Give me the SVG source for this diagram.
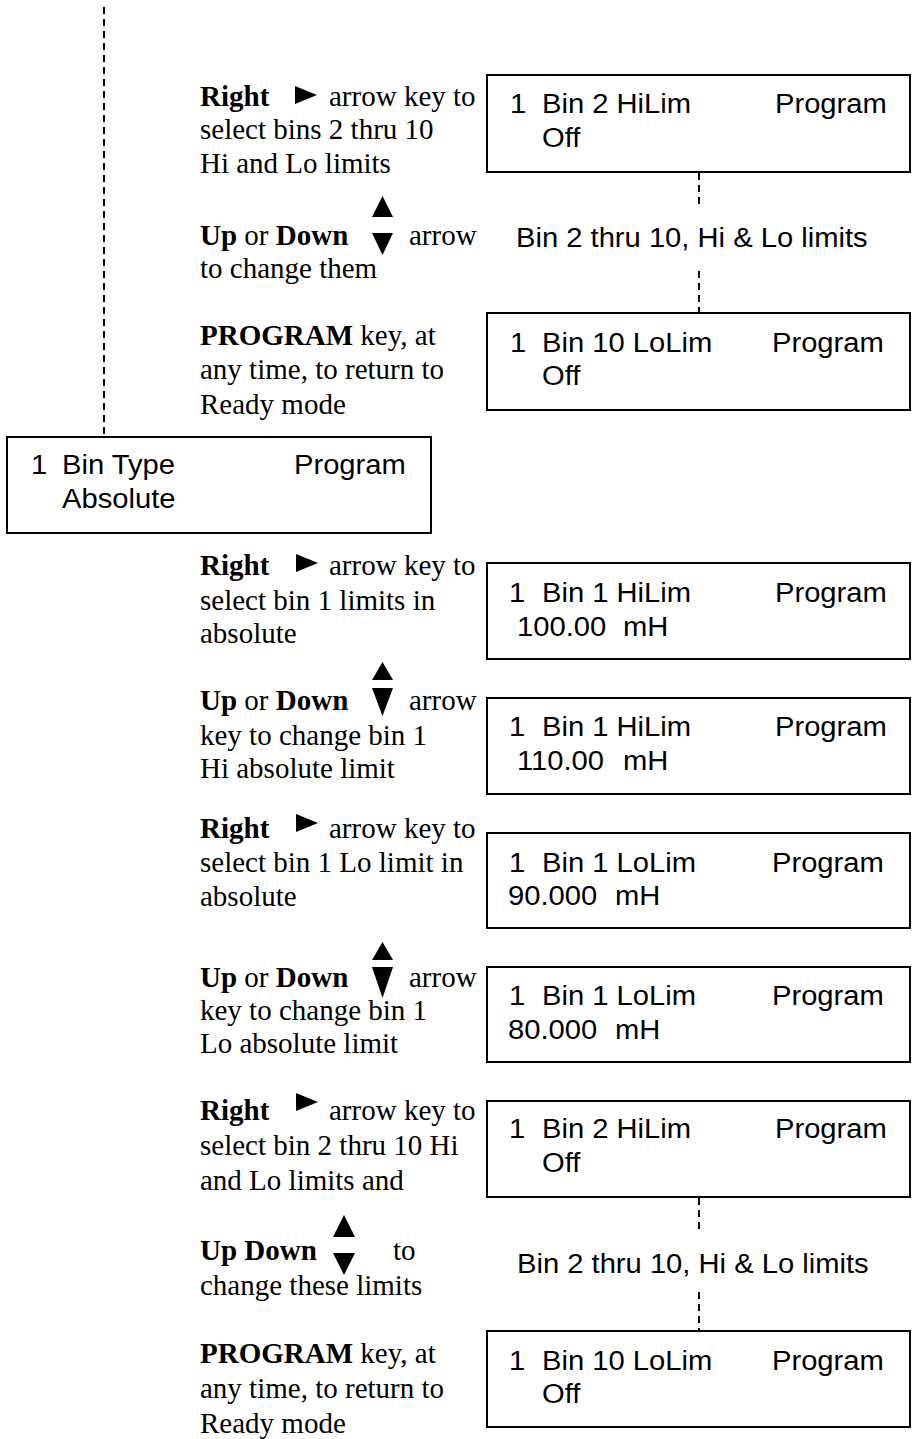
<svg xmlns="http://www.w3.org/2000/svg" width="913" height="1439" viewBox="0 0 913 1439">
<style>
.box{fill:#fff;stroke:#000;stroke-width:2}
.dash{fill:none;stroke:#000;stroke-width:2;stroke-dasharray:7 5}
.lcd{font-family:"Liberation Sans",Arial,sans-serif;font-size:27px;fill:#000}
.ins{font-family:"Liberation Serif","Times New Roman",serif;font-size:29px;fill:#000}
.b{font-weight:bold}
.tri{fill:#000}
</style>
<rect width="913" height="1439" fill="#fff"/>
<g id="connectors">
<line class="dash" x1="104" y1="7" x2="104" y2="437"/>
<line class="dash" x1="699" y1="173" x2="699" y2="208"/>
<line class="dash" x1="699" y1="271" x2="699" y2="312"/>
<line class="dash" x1="699" y1="1198" x2="699" y2="1233"/>
<line class="dash" x1="699" y1="1292" x2="699" y2="1330"/>
</g>
<g id="node-bin2-hilim-top">
<rect class="box" x="487" y="75" width="423" height="97"/>
<text class="lcd" transform="translate(510 113) scale(1.08 1)">1</text>
<text class="lcd" transform="translate(542 113) scale(1.08 1)">Bin 2 HiLim</text>
<text class="lcd" transform="translate(775 113) scale(1.08 1)">Program</text>
<text class="lcd" transform="translate(542 147) scale(1.08 1)">Off</text>
</g>
<g id="label-range-top">
<text class="lcd" transform="translate(516 247) scale(1.08 1)">Bin 2 thru 10, Hi &amp; Lo limits</text>
</g>
<g id="node-bin10-lolim-top">
<rect class="box" x="487" y="313" width="423" height="97"/>
<text class="lcd" transform="translate(510 352) scale(1.08 1)">1</text>
<text class="lcd" transform="translate(542 352) scale(1.08 1)">Bin 10 LoLim</text>
<text class="lcd" transform="translate(772 352) scale(1.08 1)">Program</text>
<text class="lcd" transform="translate(542 385) scale(1.08 1)">Off</text>
</g>
<g id="node-bin-type">
<rect class="box" x="7" y="437" width="424" height="96"/>
<text class="lcd" transform="translate(31 474) scale(1.08 1)">1</text>
<text class="lcd" transform="translate(62 474) scale(1.08 1)">Bin Type</text>
<text class="lcd" transform="translate(294 474) scale(1.08 1)">Program</text>
<text class="lcd" transform="translate(62 508) scale(1.08 1)">Absolute</text>
</g>
<g id="node-bin1-hilim-100">
<rect class="box" x="487" y="563" width="423" height="96"/>
<text class="lcd" transform="translate(509 602) scale(1.08 1)">1</text>
<text class="lcd" transform="translate(542 602) scale(1.08 1)">Bin 1 HiLim</text>
<text class="lcd" transform="translate(775 602) scale(1.08 1)">Program</text>
<text class="lcd" transform="translate(517 636) scale(1.08 1)">100.00</text>
<text class="lcd" transform="translate(623 636) scale(1.08 1)">mH</text>
</g>
<g id="node-bin1-hilim-110">
<rect class="box" x="487" y="698" width="423" height="96"/>
<text class="lcd" transform="translate(509 736) scale(1.08 1)">1</text>
<text class="lcd" transform="translate(542 736) scale(1.08 1)">Bin 1 HiLim</text>
<text class="lcd" transform="translate(775 736) scale(1.08 1)">Program</text>
<text class="lcd" transform="translate(517 770) scale(1.08 1)">110.00</text>
<text class="lcd" transform="translate(623 770) scale(1.08 1)">mH</text>
</g>
<g id="node-bin1-lolim-90">
<rect class="box" x="487" y="833" width="423" height="95"/>
<text class="lcd" transform="translate(509 872) scale(1.08 1)">1</text>
<text class="lcd" transform="translate(542 872) scale(1.08 1)">Bin 1 LoLim</text>
<text class="lcd" transform="translate(772 872) scale(1.08 1)">Program</text>
<text class="lcd" transform="translate(508 905) scale(1.08 1)">90.000</text>
<text class="lcd" transform="translate(615 905) scale(1.08 1)">mH</text>
</g>
<g id="node-bin1-lolim-80">
<rect class="box" x="487" y="967" width="423" height="95"/>
<text class="lcd" transform="translate(509 1005) scale(1.08 1)">1</text>
<text class="lcd" transform="translate(542 1005) scale(1.08 1)">Bin 1 LoLim</text>
<text class="lcd" transform="translate(772 1005) scale(1.08 1)">Program</text>
<text class="lcd" transform="translate(508 1039) scale(1.08 1)">80.000</text>
<text class="lcd" transform="translate(615 1039) scale(1.08 1)">mH</text>
</g>
<g id="node-bin2-hilim-bottom">
<rect class="box" x="487" y="1101" width="423" height="96"/>
<text class="lcd" transform="translate(509 1138) scale(1.08 1)">1</text>
<text class="lcd" transform="translate(542 1138) scale(1.08 1)">Bin 2 HiLim</text>
<text class="lcd" transform="translate(775 1138) scale(1.08 1)">Program</text>
<text class="lcd" transform="translate(542 1172) scale(1.08 1)">Off</text>
</g>
<g id="label-range-bottom">
<text class="lcd" transform="translate(517 1273) scale(1.08 1)">Bin 2 thru 10, Hi &amp; Lo limits</text>
</g>
<g id="node-bin10-lolim-bottom">
<rect class="box" x="487" y="1331" width="423" height="96"/>
<text class="lcd" transform="translate(509 1370) scale(1.08 1)">1</text>
<text class="lcd" transform="translate(542 1370) scale(1.08 1)">Bin 10 LoLim</text>
<text class="lcd" transform="translate(772 1370) scale(1.08 1)">Program</text>
<text class="lcd" transform="translate(542 1403) scale(1.08 1)">Off</text>
</g>
<g id="instructions">
<text class="ins b" x="200" y="106">Right</text>
<polygon class="tri" points="295,86 317,95 295,104"/>
<text class="ins" x="329" y="106">arrow key to</text>
<text class="ins" x="200" y="139">select bins 2 thru 10</text>
<text class="ins" x="200" y="173">Hi and Lo limits</text>

<polygon class="tri" points="372,217 382.5,196 393,217"/>
<polygon class="tri" points="372,233 393,233 382.5,255"/>
<text class="ins" x="200" y="245"><tspan class="b">Up</tspan> or <tspan class="b">Down</tspan></text>
<text class="ins" x="409" y="245">arrow</text>
<text class="ins" x="200" y="278">to change them</text>

<text class="ins" x="200" y="345"><tspan class="b">PROGRAM</tspan> key, at</text>
<text class="ins" x="200" y="379">any time, to return to</text>
<text class="ins" x="200" y="414">Ready mode</text>

<text class="ins b" x="200" y="575">Right</text>
<polygon class="tri" points="296,554 318,563 296,572"/>
<text class="ins" x="329" y="575">arrow key to</text>
<text class="ins" x="200" y="610">select bin 1 limits in</text>
<text class="ins" x="200" y="643">absolute</text>

<polygon class="tri" points="372,680 382.5,662 393,680"/>
<polygon class="tri" points="372,688 393,688 382.5,716"/>
<text class="ins" x="200" y="710"><tspan class="b">Up</tspan> or <tspan class="b">Down</tspan></text>
<text class="ins" x="409" y="710">arrow</text>
<text class="ins" x="200" y="745">key to change bin 1</text>
<text class="ins" x="200" y="778">Hi absolute limit</text>

<text class="ins b" x="200" y="838">Right</text>
<polygon class="tri" points="296,814 318,823 296,832"/>
<text class="ins" x="329" y="838">arrow key to</text>
<text class="ins" x="200" y="872">select bin 1 Lo limit in</text>
<text class="ins" x="200" y="906">absolute</text>

<polygon class="tri" points="372,960 382.5,942 393,960"/>
<polygon class="tri" points="372,967 393,967 382.5,998"/>
<text class="ins" x="200" y="987"><tspan class="b">Up</tspan> or <tspan class="b">Down</tspan></text>
<text class="ins" x="409" y="987">arrow</text>
<text class="ins" x="200" y="1020">key to change bin 1</text>
<text class="ins" x="200" y="1053">Lo absolute limit</text>

<text class="ins b" x="200" y="1120">Right</text>
<polygon class="tri" points="296,1093 318,1102 296,1111"/>
<text class="ins" x="329" y="1120">arrow key to</text>
<text class="ins" x="200" y="1155">select bin 2 thru 10 Hi</text>
<text class="ins" x="200" y="1190">and Lo limits and</text>

<polygon class="tri" points="333,1237 344,1215 355,1237"/>
<polygon class="tri" points="333,1253 355,1253 344,1275"/>
<text class="ins b" x="200" y="1260">Up Down</text>
<text class="ins" x="393" y="1260">to</text>
<text class="ins" x="200" y="1295">change these limits</text>

<text class="ins" x="200" y="1363"><tspan class="b">PROGRAM</tspan> key, at</text>
<text class="ins" x="200" y="1398">any time, to return to</text>
<text class="ins" x="200" y="1433">Ready mode</text>
</g>
</svg>
